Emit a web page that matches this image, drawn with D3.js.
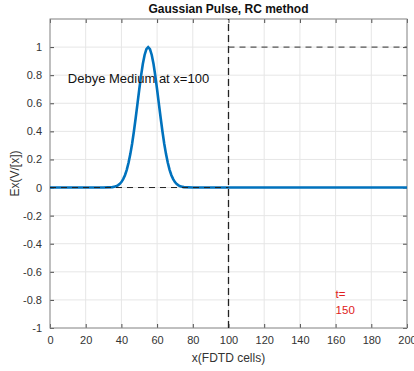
<!DOCTYPE html>
<html>
<head>
<meta charset="utf-8">
<script src="https://cdn.jsdelivr.net/npm/d3@7"></script>
<style>
  body { margin: 0; background: #fff; }
  text { font-family: "Liberation Sans", Arial, sans-serif; }
</style>
</head>
<body>
<div id="chart"></div>
<script>
// ===== Daten =====
const pulseX = [0, 30, 35, 36, 37, 38, 39, 40, 41, 42, 43, 44, 45, 46, 47, 48, 49, 50, 51, 52, 53, 54, 55,
  56, 57, 58, 59, 60, 61, 62, 63, 64, 65, 66, 67, 68, 69, 70, 71, 72, 73, 74, 75, 80, 100, 150, 200];
const pulseY = [0, 0, 0.003, 0.006, 0.009, 0.016, 0.025, 0.039, 0.060, 0.088, 0.126, 0.176, 0.238, 0.312, 0.399,
  0.495, 0.596, 0.698, 0.795, 0.879, 0.944, 0.986, 1.0, 0.986, 0.944, 0.879, 0.795, 0.698, 0.596, 0.495, 0.399,
  0.312, 0.238, 0.176, 0.126, 0.088, 0.060, 0.039, 0.025, 0.016, 0.009, 0.006, 0.003, 0, 0, 0, 0];
const xTicks = [0, 20, 40, 60, 80, 100, 120, 140, 160, 180, 200];
const yTicks = [-1, -0.8, -0.6, -0.4, -0.2, 0, 0.2, 0.4, 0.6, 0.8, 1];
const yGrid = [-1, -0.8, -0.6, -0.4, -0.2, 0, 0.2, 0.4, 0.6, 0.8, 1, 1.2];
const mediumX = 100;

const W = 414, H = 371;
const m = { left: 50, right: 7, top: 19, bottom: 43 };

const svg = d3.select('#chart').append('svg')
  .attr('width', W).attr('height', H);

const x = d3.scaleLinear().domain([0, 200]).range([m.left, W - m.right]);
const y = d3.scaleLinear().domain([-1, 1.2]).range([H - m.bottom, m.top]);

const fmt = d => String(d);

// Gitter
const g = svg.append('g');
g.selectAll('.gx').data(xTicks).enter().append('line')
  .attr('x1', d => x(d)).attr('x2', d => x(d))
  .attr('y1', y(-1)).attr('y2', y(1.2))
  .attr('stroke', '#e6e6e6').attr('stroke-width', 1);
g.selectAll('.gy').data(yGrid).enter().append('line')
  .attr('x1', x(0)).attr('x2', x(200))
  .attr('y1', d => y(d)).attr('y2', d => y(d))
  .attr('stroke', '#e6e6e6').attr('stroke-width', 1);

// Achsen (Ticks nach innen, MATLAB-Stil)
const tickColor = '#4d4d4d';
svg.append('g').attr('transform', `translate(0,${y(-1)})`)
  .call(d3.axisBottom(x).tickValues(xTicks).tickSizeInner(-4).tickSizeOuter(0).tickPadding(8).tickFormat(fmt))
  .call(a => a.select('.domain').remove());
svg.append('g').attr('transform', `translate(0,${y(1.2)})`)
  .call(d3.axisTop(x).tickValues(xTicks).tickSizeInner(-4).tickSizeOuter(0).tickFormat(''))
  .call(a => a.select('.domain').remove());
svg.append('g').attr('transform', `translate(${x(0)},0)`)
  .call(d3.axisLeft(y).tickValues(yTicks).tickSizeInner(-4).tickSizeOuter(0).tickPadding(8).tickFormat(fmt))
  .call(a => a.select('.domain').remove());
svg.append('g').attr('transform', `translate(${x(200)},0)`)
  .call(d3.axisRight(y).tickValues(yTicks).tickSizeInner(-4).tickSizeOuter(0).tickFormat(''))
  .call(a => a.select('.domain').remove());

svg.selectAll('.tick line').attr('stroke', tickColor);
svg.selectAll('.tick text').attr('fill', '#333').style('font-size', '11px')
  .style('font-family', '"Liberation Sans", Arial, sans-serif');

svg.append('rect')
  .attr('x', x(0)).attr('y', y(1.2))
  .attr('width', x(200) - x(0)).attr('height', y(-1) - y(1.2))
  .attr('fill', 'none').attr('stroke', '#8c8c8c').attr('stroke-width', 1);

// Kurve
const pts = pulseX.map((d, i) => [d, pulseY[i]]);
svg.append('path').datum(pts)
  .attr('fill', 'none').attr('stroke', '#0072BD').attr('stroke-width', 2.6)
  .attr('d', d3.line().x(d => x(d[0])).y(d => y(d[1])));

// Gestrichelte Linien
svg.append('line')
  .attr('x1', x(0)).attr('x2', x(mediumX)).attr('y1', y(0)).attr('y2', y(0))
  .attr('stroke', '#222').attr('stroke-width', 1).attr('stroke-dasharray', '6,5');
svg.append('line')
  .attr('x1', x(mediumX)).attr('x2', x(mediumX)).attr('y1', y(-1)).attr('y2', y(1.2))
  .attr('stroke', '#222').attr('stroke-width', 1.3).attr('stroke-dasharray', '7,4');
svg.append('line')
  .attr('x1', x(mediumX)).attr('x2', x(200)).attr('y1', y(1)).attr('y2', y(1))
  .attr('stroke', '#555').attr('stroke-width', 1.2).attr('stroke-dasharray', '6,5');

// Texte
svg.append('text').attr('x', x(10)).attr('y', y(0.78)).attr('dy', '0.35em')
  .style('font-size', '13px').attr('fill', '#111').text('Debye Medium at x=' + mediumX);

const tLabel = svg.append('text').attr('x', x(160)).attr('y', y(-0.755))
  .style('font-size', '11.5px').attr('fill', '#e02020');
tLabel.append('tspan').attr('x', x(160)).attr('dy', '0.35em').text('t=');
tLabel.append('tspan').attr('x', x(160)).attr('dy', '1.4em').text('150');

svg.append('text').attr('x', (x(0) + x(200)) / 2).attr('y', 13)
  .attr('text-anchor', 'middle').style('font-size', '12px').style('font-weight', 'bold')
  .attr('fill', '#111').text('Gaussian Pulse, RC method');

svg.append('text').attr('x', (x(0) + x(200)) / 2).attr('y', 362)
  .attr('text-anchor', 'middle').style('font-size', '12px').attr('fill', '#333')
  .text('x(FDTD cells)');

svg.append('text')
  .attr('transform', `translate(19,${y(0.1)}) rotate(-90)`)
  .attr('text-anchor', 'middle').style('font-size', '12px').attr('fill', '#333')
  .text('Ex(V/[x])');
</script>
</body>
</html>
